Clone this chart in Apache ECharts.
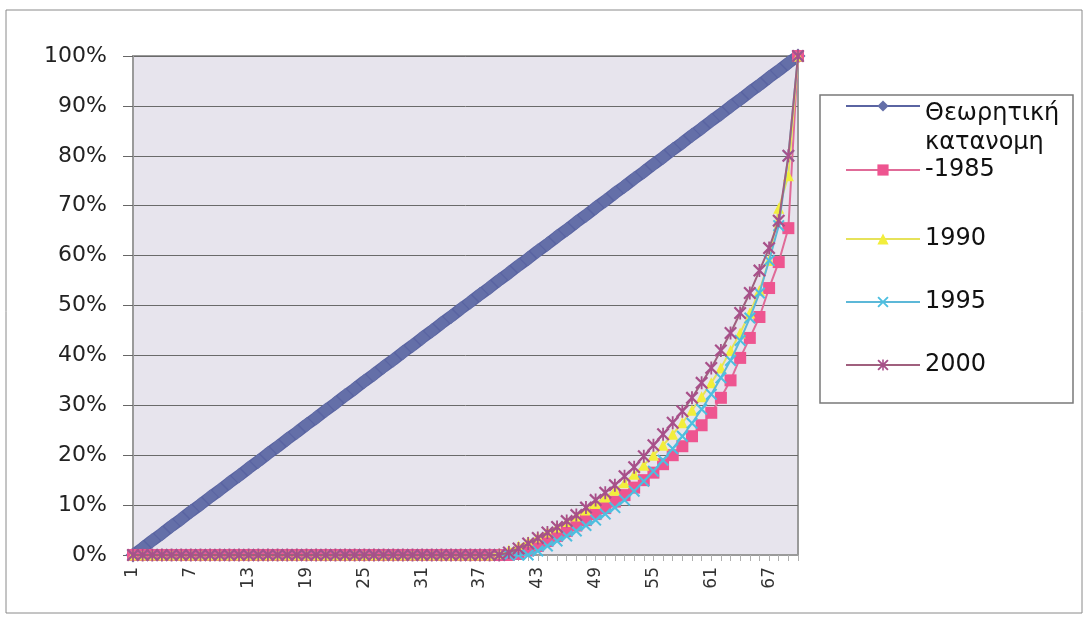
<!DOCTYPE html>
<html>
<head>
<meta charset="utf-8">
<script src="https://cdn.jsdelivr.net/npm/echarts@6/dist/echarts.min.js"></script>
<style>html,body{margin:0;padding:0;background:#fff}#c{width:1088px;height:620px}</style>
</head>
<body>
<div id="c"></div>
<script>
const categories = ['1','2','3','4','5','6','7','8','9','10','11','12','13','14','15','16','17','18','19','20',
'21','22','23','24','25','26','27','28','29','30','31','32','33','34','35','36','37','38','39','40',
'41','42','43','44','45','46','47','48','49','50','51','52','53','54','55','56','57','58','59','60',
'61','62','63','64','65','66','67','68','69','70'];

const theoretical = [0,1.4,2.9,4.3,5.8,7.2,8.7,10.1,11.6,13.0,
14.5,15.9,17.4,18.8,20.3,21.7,23.2,24.6,26.1,27.5,
29.0,30.4,31.9,33.3,34.8,36.2,37.7,39.1,40.6,42.0,
43.5,44.9,46.4,47.8,49.3,50.7,52.2,53.6,55.1,56.5,
58.0,59.4,60.9,62.3,63.8,65.2,66.7,68.1,69.6,71.0,
72.5,73.9,75.4,76.8,78.3,79.7,81.2,82.6,84.1,85.5,
87.0,88.4,89.9,91.3,92.8,94.2,95.7,97.1,98.6,100];

const s1985 = [0,0,0,0,0,0,0,0,0,0,
0,0,0,0,0,0,0,0,0,0,
0,0,0,0,0,0,0,0,0,0,
0,0,0,0,0,0,0,0,0,0,
0.2,0.9,1.8,2.8,3.8,4.8,5.9,7,8.2,9.4,
10.7,12,13.5,15,16.5,18.2,20,21.8,23.8,26,
28.5,31.5,35,39.5,43.5,47.7,53.5,58.7,65.5,100];

const s1990 = [0,0,0,0,0,0,0,0,0,0,
0,0,0,0,0,0,0,0,0,0,
0,0,0,0,0,0,0,0,0,0,
0,0,0,0,0,0,0,0,0.3,1,
1.8,2.7,3.6,4.6,5.6,6.7,7.8,9,10.3,11.6,
13,14.5,16.2,18,20,22,24.2,26.5,29,31.7,
34.5,37.5,41,44.5,48.5,53,59,69.5,76,100];

const s1995 = [0,0,0,0,0,0,0,0,0,0,
0,0,0,0,0,0,0,0,0,0,
0,0,0,0,0,0,0,0,0,0,
0,0,0,0,0,0,0,0,0,0,
0,0,0.8,1.8,2.8,3.8,4.8,5.9,7,8.2,
9.5,11,12.8,14.8,16.8,19,21.3,23.8,26.4,29.2,
32.2,35.5,39,43,47.5,52.5,59,66,80,100];

const s2000 = [0,0,0,0,0,0,0,0,0,0,
0,0,0,0,0,0,0,0,0,0,
0,0,0,0,0,0,0,0,0,0,
0,0,0,0,0,0,0,0,0,0.5,
1.3,2.3,3.4,4.5,5.6,6.8,8,9.5,11,12.5,
14,15.8,17.6,19.8,22,24.2,26.5,28.8,31.5,34.5,
37.5,41,44.5,48.5,52.5,57,61.5,67,80,100];

const yTicks = [0,10,20,30,40,50,60,70,80,90,100];
const seriesNames = ['Θεωρητική κατανομη','1985','1990','1995','2000'];

const FONT = 'DejaVu Sans';
const X_PATH = 'path://M0,1.2L1.2,0L5,3.8L8.8,0L10,1.2L6.2,5L10,8.8L8.8,10L5,6.2L1.2,10L0,8.8L3.8,5Z';
const STAR_PATH = 'path://M0,1.2L1.2,0L5,3.8L8.8,0L10,1.2L6.2,5L10,8.8L8.8,10L5,6.2L1.2,10L0,8.8L3.8,5Z M4.3,0L5.7,0L5.7,10L4.3,10Z';

function mkLegend(name, top, extra) {
  return Object.assign({
    data: [name], left: 840, top: top, orient: 'vertical',
    itemWidth: 74, itemHeight: 14, selectedMode: false,
    lineStyle: { width: 2 },
    textStyle: { fontSize: 24, color: '#111', fontFamily: FONT, lineHeight: 28 }
  }, extra || {});
}

const chart = echarts.init(document.getElementById('c'), null, { renderer: 'canvas' });
chart.setOption({
  animation: false,
  backgroundColor: '#ffffff',
  textStyle: { fontFamily: FONT },
  graphic: [
    { type: 'rect', z: -10, shape: { x: 6, y: 10, width: 1076, height: 603 }, style: { fill: 'none', stroke: '#8a8a8a', lineWidth: 1 } },
    { type: 'rect', z: -10, shape: { x: 820, y: 95, width: 253, height: 308 }, style: { fill: '#ffffff', stroke: '#7a7a7a', lineWidth: 1.5 } }
  ],
  grid: { left: 133, top: 56, right: 290, bottom: 65, show: true, backgroundColor: '#e7e4ed', borderColor: '#9a9a9a', borderWidth: 2 },
  xAxis: {
    type: 'category', data: categories, boundaryGap: false,
    axisLine: { show: true, lineStyle: { color: '#9a9a9a', width: 2 } },
    axisTick: { show: true, interval: 0, length: 6, lineStyle: { color: '#b0b0b0' } },
    axisLabel: { interval: 5, rotate: 90, fontSize: 17, color: '#333', margin: 12, fontFamily: FONT },
    splitLine: { show: false }
  },
  yAxis: {
    type: 'value', min: yTicks[0], max: yTicks[yTicks.length - 1], interval: 10,
    axisLine: { show: true, lineStyle: { color: '#9a9a9a', width: 2 } },
    axisTick: { show: true, length: 10, lineStyle: { color: '#666' } },
    axisLabel: { formatter: '{value}%', fontSize: 22, color: '#222', margin: 26, fontFamily: FONT },
    splitLine: { show: true, lineStyle: { color: '#6a6a6a', width: 1 } }
  },
  legend: [
    mkLegend(seriesNames[0], 60, {
      formatter: function () { return '{a| }\n{b|Θεωρητική}\n{b|κατανομη}'; },
      textStyle: { fontSize: 24, color: '#111', fontFamily: FONT,
        rich: { a: { lineHeight: 45, fontSize: 24 }, b: { lineHeight: 29, fontSize: 24, color: '#111', fontFamily: FONT } } }
    }),
    mkLegend(seriesNames[1], 151, { formatter: function (n) { return '-' + n; } }),
    mkLegend(seriesNames[2], 220),
    mkLegend(seriesNames[3], 283),
    mkLegend(seriesNames[4], 346)
  ],
  series: [
    { name: seriesNames[0], type: 'line', data: theoretical, symbol: 'diamond', symbolSize: 15, showAllSymbol: true,
      lineStyle: { color: '#5a64a2', width: 12 }, itemStyle: { color: '#646fa8' }, z: 2 },
    { name: seriesNames[1], type: 'line', data: s1985, symbol: 'rect', symbolSize: 12, showAllSymbol: true,
      lineStyle: { color: '#e06b98', width: 2 }, itemStyle: { color: '#ee5590' }, z: 3 },
    { name: seriesNames[2], type: 'line', data: s1990, symbol: 'triangle', symbolSize: 11, showAllSymbol: true,
      lineStyle: { color: '#e6e25a', width: 2 }, itemStyle: { color: '#f2ee3c' }, z: 4 },
    { name: seriesNames[3], type: 'line', data: s1995, symbol: X_PATH, symbolSize: 12, showAllSymbol: true,
      lineStyle: { color: '#5cb8d8', width: 2 }, itemStyle: { color: '#4dbfe0' }, z: 5 },
    { name: seriesNames[4], type: 'line', data: s2000, symbol: STAR_PATH, symbolSize: 13, showAllSymbol: true,
      lineStyle: { color: '#a0607e', width: 2 }, itemStyle: { color: '#a8508a' }, z: 6 }
  ]
});
</script>
</body>
</html>
